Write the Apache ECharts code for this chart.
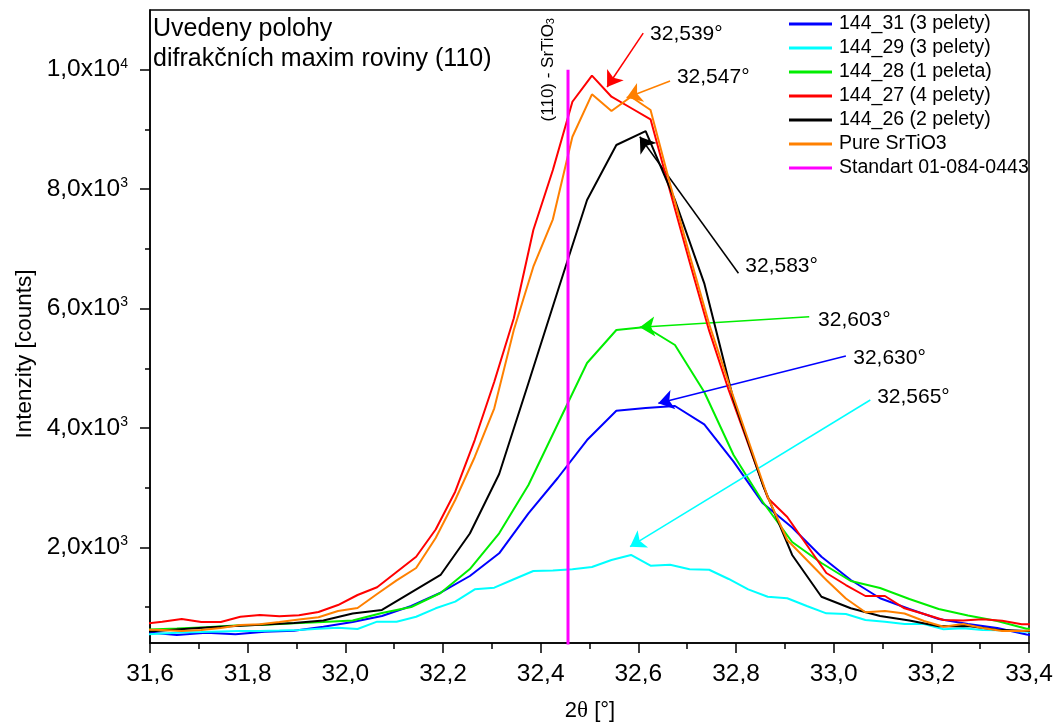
<!DOCTYPE html>
<html>
<head>
<meta charset="utf-8">
<script src="https://cdn.jsdelivr.net/npm/echarts@6/dist/echarts.min.js"></script>
<style>
  html, body { margin: 0; padding: 0; background: #fff; }
  #main { width: 1057px; height: 724px; }
</style>
</head>
<body>
<div id="main"></div>
<script>
// 2θ sampling positions (two measurement step sizes)
const theta04 = [31.585, 31.625, 31.665, 31.705, 31.745, 31.785, 31.825, 31.865, 31.905, 31.945,
  31.985, 32.025, 32.065, 32.105, 32.145, 32.185, 32.225, 32.265, 32.305, 32.345,
  32.385, 32.425, 32.465, 32.505, 32.545, 32.585, 32.625, 32.665, 32.705, 32.745,
  32.785, 32.825, 32.865, 32.905, 32.945, 32.985, 33.025, 33.065, 33.105, 33.145,
  33.185, 33.225, 33.265, 33.305, 33.345, 33.385, 33.425];
const theta06 = [31.595, 31.655, 31.715, 31.775, 31.835, 31.895, 31.955, 32.015, 32.075, 32.135,
  32.195, 32.255, 32.315, 32.375, 32.435, 32.495, 32.555, 32.615, 32.675, 32.735,
  32.795, 32.855, 32.915, 32.975, 33.035, 33.095, 33.155, 33.215, 33.275, 33.335,
  33.395, 33.455];

// intensities [counts]
const s144_31 = [579, 534, 572, 546, 589, 606, 673, 752, 852, 1020, 1242, 1522, 1902, 2572, 3163, 3799,
  4290, 4335, 4369, 4062, 3436, 2739, 2334, 1845, 1455, 1149, 969, 802, 718, 651, 542, 484];
const s144_29 = [542, 559, 576, 584, 593, 601, 601, 609, 618, 640, 655, 634, 757, 757, 840, 981, 1092,
  1299, 1326, 1467, 1606, 1614, 1634, 1673, 1790, 1874, 1694, 1711, 1634, 1627, 1472, 1299, 1175,
  1149, 1020, 897, 886, 785, 757, 718, 718, 629, 646, 618, 613, 593, 584];
const s144_28 = [626, 643, 663, 693, 706, 730, 752, 777, 902, 1003, 1237, 1639, 2237, 3046, 4067, 5089,
  5641, 5692, 5390, 4603, 3548, 2761, 2091, 1740, 1438, 1321, 1137, 969, 860, 768, 639, 634];
const s144_27 = [718, 755, 802, 752, 752, 840, 869, 847, 864, 919, 1036, 1204, 1333, 1589, 1845, 2300,
  2934, 3799, 4775, 5837, 7316, 8320, 9464, 9900, 9548, 9359, 9169, 7966, 6780, 5630, 4637, 3732,
  2828, 2510, 2041, 1572, 1371, 1187, 1187, 981, 886, 785, 777, 797, 773, 713, 713];
const s144_26 = [593, 626, 660, 685, 710, 735, 777, 894, 953, 1246, 1539, 2234, 3230, 4754, 6294, 7818,
  8739, 8973, 7818, 6423, 4469, 3046, 1874, 1175, 981, 852, 777, 680, 685, 621, 601, 593];
const sPure = [626, 618, 601, 618, 651, 701, 713, 752, 793, 830, 936, 986, 1220, 1448, 1656, 2158, 2795,
  3515, 4330, 5641, 6701, 7495, 8878, 9588, 9308, 9548, 9325, 8086, 6897, 5741, 4754, 3799, 2845,
  2125, 1790, 1455, 1145, 914, 936, 894, 768, 673, 718, 651, 601, 601, 618];

// reference pattern line (110) SrTiO3
const standardTheta = 32.456;
const standardIntensity = 10000;
const standardLabelAt = [32.415, 10000];

const seriesNames = ['144_31 (3 pelety)', '144_29 (3 pelety)', '144_28 (1 peleta)',
  '144_27 (4 pelety)', '144_26 (2 pelety)', 'Pure SrTiO3', 'Standart 01-084-0443'];
const seriesColors = ['#0000FF', '#00FFFF', '#00EE00', '#FF0000', '#000000', '#FF8000', '#FF00FF'];

// peak position notes: text, text anchor, arrow tail, arrow head
const noteLabels = ['32,630°', '32,565°', '32,603°', '32,539°', '32,583°', '32,547°'];
const noteLabelAt = [[33.040, 5172], [33.089, 4519], [32.968, 5809], [32.624, 10597], [32.819, 6713], [32.679, 9878]];
const noteTail = [[33.025, 5206], [33.075, 4469], [32.950, 5864], [32.610, 10614], [32.805, 6591], [32.665, 9811]];
const noteHead = [[32.641, 4414], [32.583, 2013], [32.603, 5686], [32.536, 9710], [32.603, 8878], [32.576, 9531]];

const yTicksMajor = [2000, 4000, 6000, 8000, 10000];
const yTicksMinor = [1000, 3000, 5000, 7000, 9000];

const FONT = 'Liberation Sans, Arial, sans-serif';

function pairs(xs, ys) { return xs.map((x, i) => [x, ys[i]]); }

const dataSets = [
  pairs(theta06, s144_31),
  pairs(theta04, s144_29),
  pairs(theta06, s144_28),
  pairs(theta04, s144_27),
  pairs(theta06, s144_26),
  pairs(theta04, sPure)
];

const series = dataSets.map((d, i) => ({
  type: 'line',
  name: seriesNames[i],
  data: d,
  showSymbol: false,
  symbol: 'none',
  clip: true,
  lineStyle: { width: 2, color: seriesColors[i] },
  itemStyle: { color: seriesColors[i] },
  emphasis: { disabled: true },
  z: 2 + i,
  markLine: {
    silent: true,
    animation: false,
    label: { show: false },
    lineStyle: { type: 'solid', width: 1.5, color: seriesColors[i] },
    data: [[
      { coord: noteTail[i], symbol: 'none' },
      { coord: noteHead[i], symbol: 'arrow', symbolSize: 15 }
    ]]
  },
  markPoint: {
    silent: true,
    animation: false,
    symbol: 'circle',
    symbolSize: 0,
    data: [{
      coord: noteLabelAt[i],
      label: {
        show: true, position: 'right', distance: 0,
        formatter: noteLabels[i],
        fontSize: 21, fontFamily: FONT, color: '#000'
      }
    }]
  }
}));

series.push({
  type: 'line',
  name: seriesNames[6],
  data: [[standardTheta, 0], [standardTheta, standardIntensity]],
  showSymbol: false,
  symbol: 'none',
  clip: true,
  lineStyle: { width: 3, color: seriesColors[6] },
  itemStyle: { color: seriesColors[6] },
  emphasis: { disabled: true },
  z: 10,
  markPoint: {
    silent: true,
    animation: false,
    symbol: 'circle',
    symbolSize: 0,
    data: [{
      coord: standardLabelAt,
      label: {
        show: true, position: 'inside', rotate: 90,
        formatter: '{a|(110) - SrTiO}{b|3}',
        rich: {
          a: { fontSize: 17, fontFamily: FONT, color: '#000' },
          b: { fontSize: 11, fontFamily: FONT, color: '#000', verticalAlign: 'bottom', padding: [6, 0, 0, 0] }
        }
      }
    }]
  }
});

const option = {
  animation: false,
  backgroundColor: '#fff',
  grid: { left: 150, right: 28, top: 10, bottom: 81, show: true, borderColor: '#000', borderWidth: 1.5 },
  legend: {
    orient: 'vertical',
    left: 784,
    top: 9,
    icon: 'rect',
    itemWidth: 43,
    itemHeight: 3,
    itemGap: 4,
    selectedMode: false,
    data: seriesNames,
    textStyle: { fontSize: 19.5, fontFamily: FONT, color: '#000', lineHeight: 20, padding: [0, 0, 0, 2] }
  },
  xAxis: {
    type: 'value',
    min: 31.6,
    max: 33.4,
    interval: 0.2,
    splitLine: { show: false },
    axisLine: { onZero: false, lineStyle: { color: '#000', width: 1.5 } },
    axisTick: { show: true, inside: false, length: 10, lineStyle: { color: '#000', width: 1.5 } },
    minorTick: { show: true, splitNumber: 2, length: 6, lineStyle: { color: '#000', width: 1.5 } },
    axisLabel: {
      margin: 19, fontSize: 24.5, fontFamily: FONT, color: '#000',
      formatter: v => v.toFixed(1).replace('.', ',')
    }
  },
  yAxis: [{
    type: 'value',
    min: 400,
    max: 11000,
    splitLine: { show: false },
    axisLine: { show: true, onZero: false, lineStyle: { color: '#000', width: 1.5 } },
    axisTick: { show: true, inside: false, length: 10, customValues: yTicksMajor, lineStyle: { color: '#000', width: 1.5 } },
    axisLabel: {
      margin: 22,
      customValues: yTicksMajor,
      formatter: v => {
        const e = v >= 10000 ? 4 : 3;
        const m = v / Math.pow(10, e);
        return '{m|' + m.toFixed(1).replace('.', ',') + 'x10}{e|' + e + '}';
      },
      rich: {
        m: { fontSize: 24.5, fontFamily: FONT, color: '#000', lineHeight: 26 },
        e: { fontSize: 14, fontFamily: FONT, color: '#000', verticalAlign: 'top', lineHeight: 26 }
      }
    }
  }, {
    type: 'value',
    min: 400,
    max: 11000,
    position: 'left',
    splitLine: { show: false },
    axisLine: { show: false },
    axisTick: { show: true, inside: false, length: 5, customValues: yTicksMinor, lineStyle: { color: '#000', width: 1.5 } },
    axisLabel: { show: false }
  }],
  graphic: [
    {
      type: 'text', left: 153, top: 14, silent: true,
      style: {
        text: 'Uvedeny polohy\ndifrakčních maxim roviny (110)',
        fontSize: 25, fontFamily: FONT, fill: '#000', lineHeight: 30
      }
    },
    {
      type: 'text', x: 25, y: 354, rotation: Math.PI / 2, silent: true,
      style: {
        text: 'Intenzity [counts]', fontSize: 22.5, fontFamily: FONT, fill: '#000',
        align: 'center', verticalAlign: 'middle'
      }
    },
    {
      type: 'text', x: 590, y: 711, silent: true,
      style: {
        text: '{n|2}{t|θ}{n| [°]}', align: 'center', verticalAlign: 'middle',
        rich: {
          n: { fontSize: 22, fontFamily: FONT, fill: '#000' },
          t: { fontSize: 23, fontFamily: 'Liberation Serif, serif', fill: '#000' }
        }
      }
    }
  ],
  series: series
};

const chart = echarts.init(document.getElementById('main'));
chart.setOption(option);
</script>
</body>
</html>
